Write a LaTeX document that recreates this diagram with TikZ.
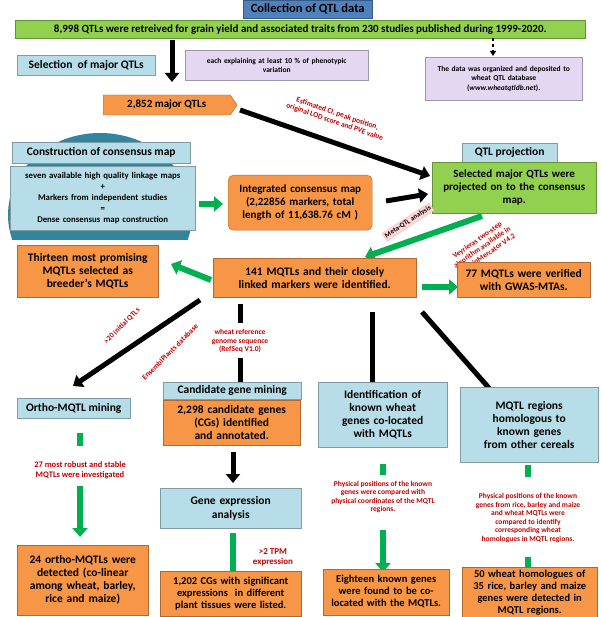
\documentclass[tikz,border=0pt]{standalone}
\usepackage{fontspec}
\setmainfont{Carlito}
\usetikzlibrary{arrows.meta,shapes.geometric,shapes.symbols}
\definecolor{org}{HTML}{F79646}
\definecolor{lb}{HTML}{B7DEE8}
\definecolor{gr}{HTML}{92D050}
\definecolor{pu}{HTML}{E4D7F2}
\definecolor{tb}{HTML}{4F81BD}
\definecolor{rd}{HTML}{C00000}
\definecolor{ag}{HTML}{00B050}
\definecolor{teal}{HTML}{31859C}
\tikzset{
 every node/.append style={execute at begin node={\hyphenpenalty=10000\exhyphenpenalty=10000}},
 bx/.style={draw=#1!70!black,fill=#1,line width=0.4pt,inner sep=2pt,align=center,font=\bfseries},
 o/.style={bx=org,font=\bfseries\fontsize{11.5}{13}\selectfont},
 l/.style={bx=lb,font=\bfseries\fontsize{11.5}{13}\selectfont},
 rt/.style={text=rd,font=\bfseries\fontsize{7.5}{8.5}\selectfont,align=center},
 ba/.style={line width=5pt,-{Triangle[length=9pt,width=14pt]},draw=black},
 gra/.style={line width=6pt,-{Triangle[length=9pt,width=15pt]},draw=ag},
}
\begin{document}
\begin{tikzpicture}[x=1pt,y=-1pt]
\useasboundingbox (0,0) rectangle (600,617);
% top
\node[bx=tb,text=black,minimum width=129,minimum height=18,anchor=north west,font=\bfseries\fontsize{12.5}{13}\selectfont] (t) at (243,0) {Collection of QTL data};
\node[bx=gr,minimum width=570,minimum height=18,anchor=north west,font=\bfseries\fontsize{11}{12}\selectfont] (g) at (15,20) {8,998 QTLs were retreived for grain yield and associated traits from 230 studies published during 1999-2020.};
\node[l,minimum width=138,minimum height=20,anchor=north west] (sel) at (17,55) {Selection\ \ of major QTLs};
\node[bx=pu,text width=175,minimum height=30,minimum width=183,anchor=north west,font=\bfseries\fontsize{7.5}{9}\selectfont] (pv) at (185,50) {each explaining at least 10 \% of phenotypic\\variation};
\node[bx=pu,text width=153,minimum height=43,anchor=north west,font=\bfseries\fontsize{7.5}{9.5}\selectfont] (db) at (425,57) {The data was organized and deposited to\\wheat QTL database\\(\textit{www.wheatqtldb.net}).};
\coordinate (a1) at (172,40); \coordinate (a2) at (172,82);
\draw[ba] (a1) -- (a2);
\coordinate (d1) at (493,38); \coordinate (d2) at (493,56);
\draw[dashed,line width=1.2pt,-{Triangle[length=5pt,width=6pt]}] (d1) -- (d2);
\node[signal,signal to=east,signal pointer angle=110,draw=org!70!black,fill=org,minimum width=134,minimum height=20,anchor=west,font=\bfseries\fontsize{11}{12}\selectfont] (mq) at (103,105) {2,852 major QTLs};
% consensus
\fill[teal] (100,215) ellipse (92 and 82);
\fill[white] (0,240) rectangle (200,320);
\node[l,minimum width=178,minimum height=21,anchor=north west] (con) at (12,142) {Construction of consensus map};
\node[bx=lb,text width=181,minimum height=64,anchor=north west,font=\bfseries\fontsize{8.8}{11}\selectfont] (cb) at (10,166) {seven available high quality linkage maps\\+\\Markers from independent studies\\=\\Dense consensus map construction};
\node[bx=org,rounded corners=5pt,text width=140,minimum height=55,anchor=north west,font=\bfseries\fontsize{11}{13}\selectfont] (im) at (228,175) {Integrated consensus map (2,22856 markers, total length of 11,638.76 cM )};
\node[l,minimum width=95,minimum height=19,anchor=north west] (qp) at (462,143) {QTL projection};
\node[bx=gr,text width=158,minimum width=164,minimum height=51,anchor=north west,font=\bfseries\fontsize{11}{13}\selectfont] (qb) at (432,162) {Selected major QTLs were\\projected on to the consensus\\map.};
\draw[ba] (240,110) coordinate (m1) -- (430,176) coordinate (m2);
\node[rt,rotate=-19,font=\bfseries\fontsize{7.5}{8.5}\selectfont] (el) at (336,118) {Estimated CI, peak position,\\original LOD score and PVE value};
\draw[gra] (199,204) coordinate (c1) -- (223,204) coordinate (c2);
\draw[ba] (386,201) coordinate (i1) -- (428,194) coordinate (i2);
% meta
\draw[gra] (482,216) coordinate (q1) -- (365,257) coordinate (q2);
\node[fill=red!15,draw=red!30,rotate=33,font=\bfseries\fontsize{7}{8}\selectfont,inner sep=1.5pt] (ma) at (408,222) {Meta-QTL analysis};
\node[rt,rotate=35] (vy) at (482,247) {Veyrieras two-step\\algorithm available in\\the BioMercator V4.2};
\node[o,text width=125,minimum width=141,minimum height=52,anchor=north west] (th) at (17,245) {Thirteen most promising MQTLs selected as breeder's MQTLs};
\node[o,text width=199,minimum height=39,anchor=north west] (m141) at (213,258) {141 MQTLs and their closely linked markers were identified.};
\node[o,text width=129,minimum height=35,anchor=north west] (m77) at (457,262) {77 MQTLs were verified with GWAS-MTAs.};
\draw[gra] (211,280) coordinate (h1) -- (171,264) coordinate (h2);
\draw[gra] (422,287) coordinate (r1) -- (458,287) coordinate (r2);
% branches
\draw[ba] (200,300) coordinate (b1) -- (73,386) coordinate (b2);
\node[rt,rotate=45] (ri) at (122,326) {>20 initial QTLs};
\node[rt,rotate=45] (ep) at (170,352) {EnsemblPlants database};
\draw[line width=5pt] (240,304) coordinate (w1) -- (240,323) coordinate (w2);
\node[rt] (wr) at (240,341) {wheat reference\\genome sequence\\(RefSeq V1.0)};
\draw[ba] (240,358) coordinate (w3) -- (240,402) coordinate (w4);
\draw[ba] (372,312) coordinate (k1) -- (372,400) coordinate (k2);
\draw[ba] (422,312) coordinate (n1) -- (504,405) coordinate (n2);
% column 1
\node[l,minimum width=113,minimum height=20,anchor=north west] (om) at (17,398) {Ortho-MQTL mining};
\draw[ag,line width=6pt] (80,433) coordinate (o1) -- (80,446) coordinate (o2);
\node[rt,font=\bfseries\fontsize{8.5}{10}\selectfont] (rs) at (80,470) {27 most robust and stable\\MQTLs were investigated};
\draw[gra] (80,486) coordinate (o3) -- (80,537) coordinate (o4);
\node[o,text width=115,minimum width=131,minimum height=70,anchor=north west] (o24) at (17,545) {24 ortho-MQTLs were detected (co-linear among wheat, barley, rice and maize)};
% column 2
\node[l,minimum width=138,minimum height=17,anchor=north west] (cg) at (163,382) {Candidate gene mining};
\node[o,text width=125,minimum width=137,minimum height=45,anchor=north west] (c2298) at (163,400) {2,298 candidate genes (CGs) identified and annotated.};
\draw[ba] (233,452) coordinate (e1) -- (233,483) coordinate (e2);
\node[bx=lb,font=\fontsize{11.5}{14}\selectfont\bfseries,text width=137,minimum height=40,anchor=north west] (ge) at (160,488) {Gene expression\\analysis};
\draw[gra] (233,533) coordinate (t1) -- (233,588) coordinate (t2);
\node[rt,font=\bfseries\fontsize{9}{10.5}\selectfont] (tpm) at (273,557) {>2 TPM\\expression};
\node[o,text width=137,minimum height=45,anchor=south west,font=\bfseries\fontsize{10.5}{12}\selectfont] (c1202) at (160,616) {1,202 CGs with significant\\expressions\ \ in different\\plant tissues were listed.};
% column 3
\node[bx=lb,font=\fontsize{11.5}{13}\selectfont\bfseries,text width=110,minimum width=129,minimum height=65,anchor=north west] (id) at (318,382) {Identification of known wheat genes co-located with MQTLs};
\draw[ag,line width=6pt] (383,464) coordinate (k3) -- (383,475) coordinate (k4);
\node[rt] (pp1) at (383,497) {Physical positions of the known\\genes were compared with\\physical coordinates of the MQTL\\regions.};
\draw[gra] (383,530) coordinate (k5) -- (383,572) coordinate (k6);
\node[o,text width=122,minimum height=46,anchor=south west,font=\bfseries\fontsize{10.5}{12}\selectfont] (e18) at (323,615) {Eighteen known genes\\were found to be co-\\located with the MQTLs.};
% column 4
\node[bx=lb,font=\fontsize{11.5}{13}\selectfont\bfseries,text width=120,minimum width=138,minimum height=75,anchor=north west] (mr) at (460,387) {MQTL regions homologous to known genes from other cereals};
\draw[ag,line width=6pt] (528,465) coordinate (p3) -- (528,477) coordinate (p4);
\node[rt] (pp2) at (528,518) {Physical positions of the known\\genes from rice, barley and maize\\and wheat MQTLs were\\compared to identify\\corresponding wheat\\homologues in MQTL regions.};
\draw[gra] (528,557) coordinate (p5) -- (528,579) coordinate (p6);
\node[o,text width=131,minimum height=37,anchor=south west,font=\bfseries\fontsize{10.5}{12}\selectfont] (w50) at (462,617) {50 wheat homologues of\\35 rice, barley and maize\\genes were detected in\\MQTL regions.};
\end{tikzpicture}
\end{document}
